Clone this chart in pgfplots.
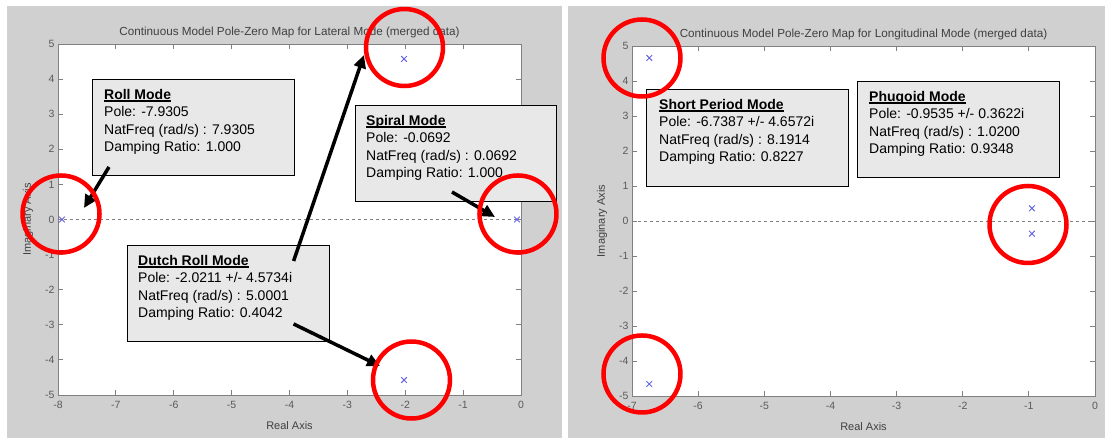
\documentclass[border=0pt]{standalone}
\usepackage{fontspec}
\setmainfont{Liberation Sans}
\usepackage{pgfplots}
\pgfplotsset{compat=1.18}
\usetikzlibrary{arrows.meta}
\definecolor{panel}{RGB}{208,208,208}
\definecolor{boxfill}{RGB}{232,232,232}
\definecolor{mk}{RGB}{100,100,225}
\definecolor{axc}{RGB}{128,128,128}
\definecolor{lbl}{RGB}{90,90,90}
\newcommand\ulb[1]{\setbox0\hbox{\textbf{#1}}\rlap{\rule[-2.2pt]{\wd0}{1.2pt}}\box0}
\pgfplotsset{pz/.style={
  scale only axis, clip=false,
  axis background/.style={fill=white},
  axis line style={axc, line width=0.8pt},
  every tick/.style={axc, line width=0.8pt},
  tick align=inside, major tick length=5pt,
  xtick pos=both, ytick pos=both,
  xticklabel pos=lower, yticklabel pos=left,
  /pgf/number format/assume math mode=true,
  tick label style={font=\fontsize{10.5}{12}\selectfont, text=lbl},
  xticklabel style={yshift=-3pt},
  ymin=-5, ymax=5, ytick={-5,-4,...,5},
  title style={font=\fontsize{11.7}{13}\selectfont, text=black!75, at={(axis description cs:0.5,1)}, anchor=base, yshift=2pt},
  xlabel style={font=\fontsize{11}{13}\selectfont, text=black!75, at={(axis description cs:0.5,0)}, anchor=base, yshift=-35pt},
  ylabel style={font=\fontsize{11}{13}\selectfont, text=black!75, yshift=5pt},
  xlabel={Real Axis}, ylabel={Imaginary Axis},
}}
\tikzset{
  mbox/.style={draw=black, line width=1pt, fill=boxfill, anchor=north west, inner sep=0pt},
  mtxt/.style={anchor=north west, inner sep=0pt, align=left, font=\fontsize{14}{17.5}\selectfont},
  arr/.style={line width=3.5pt, -{Triangle[length=13pt,width=12pt]}},
  rc/.style={draw=red, line width=4.5pt},
}
\begin{document}
\begin{tikzpicture}
\path[use as bounding box] (0pt,0pt) rectangle (1105pt,438pt);
\fill[panel] (7pt,0pt) rectangle (562pt,432pt);
\fill[panel] (568pt,0pt) rectangle (1105pt,432pt);

\begin{axis}[pz, at={(58pt,43pt)}, anchor=south west, width=463pt, height=351pt,
  xmin=-8, xmax=0, xtick={-8,-7,...,0},
  title={Continuous Model Pole-Zero Map for Lateral Mode (merged data)}]
\addplot[axc, dash pattern=on 3pt off 3pt, line width=0.8pt] coordinates {(-8,0) (0,0)};
\addplot[only marks, mark=x, mark size=4pt, mk, line width=1pt] coordinates {
 (-7.9305,0) (-2.0211,4.5734) (-2.0211,-4.5734) (-0.0692,0)};
\coordinate (rollB) at (axis cs:-7.413,4.003);
\coordinate (spirB) at (axis cs:-2.868,3.262);
\coordinate (dutchB) at (axis cs:-6.808,-0.726);
\coordinate (c1) at (axis cs:-2.013,4.90);
\coordinate (c2) at (axis cs:-7.948,0.157);
\coordinate (c3) at (axis cs:-0.052,0.157);
\coordinate (c4) at (axis cs:-1.892,-4.573);
\coordinate (a1s) at (axis cs:-7.119,1.496);
\coordinate (a1e) at (axis cs:-7.551,0.328);
\coordinate (a2s) at (axis cs:-3.929,-1.182);
\coordinate (a2e) at (axis cs:-2.713,4.687);
\coordinate (a3s) at (axis cs:-3.929,-2.977);
\coordinate (a3e) at (axis cs:-2.436,-4.174);
\coordinate (a4s) at (axis cs:-1.192,0.783);
\coordinate (a4e) at (axis cs:-0.449,0.071);
\end{axis}

\begin{axis}[pz, at={(632pt,42pt)}, anchor=south west, width=463pt, height=350pt,
  xmin=-7, xmax=0, xtick={-7,-6,...,0},
  title={Continuous Model Pole-Zero Map for Longitudinal Mode (merged data)}]
\addplot[axc, dash pattern=on 3pt off 3pt, line width=0.8pt] coordinates {(-7,0) (0,0)};
\addplot[only marks, mark=x, mark size=4pt, mk, line width=1pt] coordinates {
 (-6.7387,4.6572) (-6.7387,-4.6572) (-0.9535,0.3622) (-0.9535,-0.3622)};
\coordinate (shortB) at (axis cs:-6.788,3.771);
\coordinate (phugB) at (axis cs:-3.598,4.0);
\coordinate (c5) at (axis cs:-6.849,4.657);
\coordinate (c6) at (axis cs:-6.849,-4.371);
\coordinate (c7) at (axis cs:-1.013,-0.1);
\end{axis}

% annotation boxes
\node[mbox, minimum width=202pt, minimum height=96pt] at (rollB) {};
\node[mtxt] at ([shift={(12pt,-10pt)}]rollB) {\ulb{Roll Mode}\\Pole: -7.9305\\NatFreq (rad/s) : 7.9305\\Damping Ratio: 1.000};
\node[mbox, minimum width=201pt, minimum height=96pt] at (spirB) {};
\node[mtxt] at ([shift={(11pt,-10pt)}]spirB) {\ulb{Spiral Mode}\\Pole: -0.0692\\NatFreq (rad/s) : 0.0692\\Damping Ratio: 1.000};
\node[mbox, minimum width=202pt, minimum height=96pt] at (dutchB) {};
\node[mtxt] at ([shift={(11pt,-10pt)}]dutchB) {\ulb{Dutch Roll Mode}\\Pole: -2.0211 +/- 4.5734i\\NatFreq (rad/s) : 5.0001\\Damping Ratio: 0.4042};
\node[mbox, minimum width=202pt, minimum height=97pt] at (shortB) {};
\node[mtxt] at ([shift={(13pt,-10pt)}]shortB) {\ulb{Short Period Mode}\\Pole: -6.7387 +/- 4.6572i\\NatFreq (rad/s) : 8.1914\\Damping Ratio: 0.8227};
\node[mbox, minimum width=202pt, minimum height=96pt] at (phugB) {};
\node[mtxt] at ([shift={(12pt,-10pt)}]phugB) {\ulb{Phugoid Mode}\\Pole: -0.9535 +/- 0.3622i\\NatFreq (rad/s) : 1.0200\\Damping Ratio: 0.9348};

% arrows
\draw[arr] (a1s) -- (a1e);
\draw[arr] (a2s) -- (a2e);
\draw[arr] (a3s) -- (a3e);
\draw[arr] (a4s) -- (a4e);

% red circles
\foreach \c in {c1,c2,c3,c4,c5,c6,c7} {\draw[rc] (\c) circle[radius=38.5pt];}
\end{tikzpicture}
\end{document}
